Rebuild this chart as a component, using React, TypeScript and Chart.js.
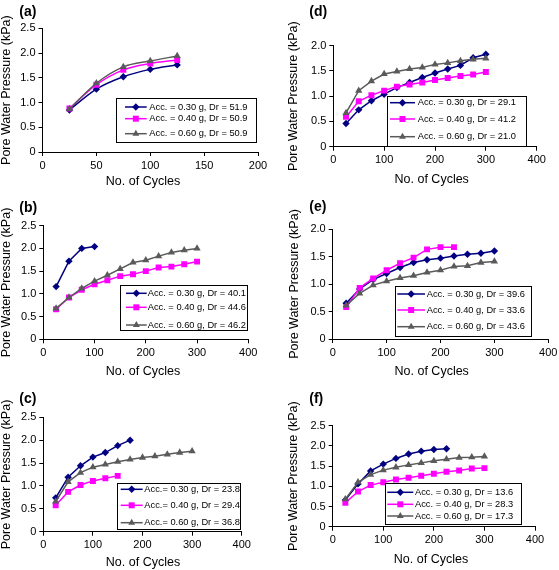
import React, { useEffect, useRef } from "react";
import { Chart, registerables } from "chart.js";

Chart.register(...registerables);

const FONT = '"Liberation Sans", Arial, Helvetica, sans-serif';

// ---------- data ----------
const cyclesA = [25, 50, 75, 100, 125];
const cycles = [25, 50, 75, 100, 125, 150, 175, 200, 225, 250, 275, 300];

const aAcc30 = [0.85, 1.27, 1.52, 1.67, 1.76];
const aAcc40 = [0.88, 1.36, 1.66, 1.79, 1.86];
const aAcc60 = [0.87, 1.39, 1.72, 1.84, 1.94];

const bAcc30 = [1.16, 1.72, 2.0, 2.04];
const bAcc40 = [0.66, 0.92, 1.09, 1.21, 1.3, 1.39, 1.43, 1.5, 1.58, 1.6, 1.65, 1.71];
const bAcc60 = [0.68, 0.92, 1.12, 1.28, 1.41, 1.55, 1.69, 1.74, 1.83, 1.91, 1.96, 2.0];

const cAcc30 = [0.74, 1.19, 1.44, 1.63, 1.73, 1.88, 2.0];
const cAcc40 = [0.58, 0.87, 1.02, 1.11, 1.17, 1.22];
const cAcc60 = [0.66, 1.09, 1.29, 1.41, 1.47, 1.53, 1.58, 1.62, 1.65, 1.69, 1.73, 1.76];

const dAcc30 = [0.46, 0.73, 0.91, 1.04, 1.17, 1.27, 1.37, 1.46, 1.54, 1.61, 1.76, 1.83];
const dAcc40 = [0.59, 0.9, 1.02, 1.11, 1.19, 1.23, 1.27, 1.32, 1.36, 1.4, 1.43, 1.48];
const dAcc60 = [0.67, 1.11, 1.3, 1.44, 1.49, 1.54, 1.57, 1.63, 1.66, 1.7, 1.73, 1.75];

const eAcc30 = [0.65, 0.91, 1.08, 1.19, 1.3, 1.39, 1.44, 1.47, 1.51, 1.54, 1.56, 1.6];
const eAcc40 = [0.58, 0.93, 1.1, 1.25, 1.38, 1.48, 1.63, 1.67, 1.67];
const eAcc60 = [0.61, 0.83, 0.98, 1.05, 1.11, 1.15, 1.21, 1.25, 1.32, 1.33, 1.39, 1.41];

const fAcc30 = [0.66, 1.06, 1.38, 1.55, 1.69, 1.8, 1.87, 1.91, 1.93];
const fAcc40 = [0.59, 0.87, 1.03, 1.1, 1.17, 1.21, 1.26, 1.31, 1.36, 1.39, 1.44, 1.45];
const fAcc60 = [0.68, 1.1, 1.29, 1.4, 1.47, 1.53, 1.58, 1.63, 1.67, 1.71, 1.72, 1.74];

const namesA = ["Acc. = 0.30 g, Dr = 51.9", "Acc. = 0.40 g, Dr = 50.9", "Acc. = 0.60 g, Dr = 50.9"];
const namesB = ["Acc. = 0.30 g, Dr = 40.1", "Acc. = 0.40 g, Dr = 44.6", "Acc. = 0.60 g, Dr = 46.2"];
const namesC = ["Acc.= 0.30 g, Dr = 23.8", "Acc.= 0.40 g, Dr = 29.4", "Acc.= 0.60 g, Dr = 36.8"];
const namesD = ["Acc. = 0.30 g, Dr = 29.1", "Acc. = 0.40 g, Dr = 41.2", "Acc. = 0.60 g, Dr = 21.0"];
const namesE = ["Acc. = 0.30 g, Dr = 39.6", "Acc. = 0.40 g, Dr = 33.6", "Acc. = 0.60 g, Dr = 43.6"];
const namesF = ["Acc. = 0.30 g, Dr = 13.6", "Acc. = 0.40 g, Dr = 28.3", "Acc. = 0.60 g, Dr = 17.3"];

const xTitle = "No. of Cycles";
const yTitle = "Pore Water Pressure (kPa)";

// ---------- styles ----------
const COLORS = ["#000080", "#FF00FF", "#5a5a5a"];
const MARKERS = ["diamond", "square", "triangle"];

type Legend = { x0: number; y0: number; x1: number; y1: number; rows: number[]; lx0: number; lx1: number; tx: number };
type PanelCfg = {
  label: string; labelX: number; labelY: number;
  left: number; top: number; w: number; h: number;
  padT: number; padR: number; yW: number; xH: number;
  yTitlePad: number; xTitleX: number; xTitleY: number;
  xMax: number; xStep: number; yMax: number; smooth: boolean;
  xs: number[]; series: number[][]; names: string[]; legend: Legend;
};

const panels: PanelCfg[] = [
  {
    label: "(a)", labelX: 19.3, labelY: 12.5, left: 0, top: 0, w: 280, h: 190,
    padT: 28.3, padR: 22, yW: 42.5, xH: 38, yTitlePad: 0, xTitleX: 143, xTitleY: 182,
    xMax: 200, xStep: 50, yMax: 2.5, smooth: true,
    xs: cyclesA, series: [aAcc30, aAcc40, aAcc60], names: namesA,
    legend: { x0: 115.7, y0: 97.7, x1: 255.7, y1: 142, rows: [107, 118.7, 133.7], lx0: 125, lx1: 146.7, tx: 149.3 },
  },
  {
    label: "(d)", labelX: 29.3, labelY: 11.7, left: 280, top: 0, w: 279, h: 190,
    padT: 45.7, padR: 22.3, yW: 53.3, xH: 43.3, yTitlePad: 7.5, xTitleX: 151.7, xTitleY: 180,
    xMax: 400, xStep: 100, yMax: 2, smooth: false,
    xs: cycles, series: [dAcc30, dAcc40, dAcc60], names: namesD,
    legend: { x0: 107.3, y0: 95.7, x1: 246.7, y1: 146, rows: [102.7, 119, 136.7], lx0: 110, lx1: 135, tx: 137.7 },
  },
  {
    label: "(b)", labelX: 19.3, labelY: 18.3, left: 0, top: 190, w: 280, h: 190,
    padT: 35.7, padR: 31.7, yW: 43.3, xH: 40.7, yTitlePad: 0, xTitleX: 143, xTitleY: 181.7,
    xMax: 400, xStep: 100, yMax: 2.5, smooth: false,
    xs: cycles, series: [bAcc30, bAcc40, bAcc60], names: namesB,
    legend: { x0: 120, y0: 95, x1: 247.3, y1: 140, rows: [103.3, 117.3, 135], lx0: 126, lx1: 146.7, tx: 147.7 },
  },
  {
    label: "(e)", labelX: 29.3, labelY: 16.7, left: 280, top: 190, w: 279, h: 190,
    padT: 39, padR: 10.7, yW: 52.7, xH: 41, yTitlePad: 8.25, xTitleX: 151.7, xTitleY: 181.7,
    xMax: 400, xStep: 100, yMax: 2, smooth: false,
    xs: cycles, series: [eAcc30, eAcc40, eAcc60], names: namesE,
    legend: { x0: 115, y0: 95.7, x1: 250.7, y1: 145.7, rows: [104, 120, 136.7], lx0: 117.3, lx1: 145, tx: 146.7 },
  },
  {
    label: "(c)", labelX: 19.3, labelY: 18.7, left: 0, top: 380, w: 280, h: 190,
    padT: 37.3, padR: 38.3, yW: 43.3, xH: 38.3, yTitlePad: 0, xTitleX: 143, xTitleY: 182.3,
    xMax: 400, xStep: 100, yMax: 2.5, smooth: false,
    xs: cycles, series: [cAcc30, cAcc40, cAcc60], names: namesC,
    legend: { x0: 117.3, y0: 102.7, x1: 240.7, y1: 148.3, rows: [109.3, 125.3, 142.7], lx0: 120.7, lx1: 142.7, tx: 144.3 },
  },
  {
    label: "(f)", labelX: 29.3, labelY: 18.7, left: 280, top: 380, w: 279, h: 190,
    padT: 45.7, padR: 24, yW: 52.7, xH: 43.3, yTitlePad: 7.5, xTitleX: 151, xTitleY: 180,
    xMax: 400, xStep: 100, yMax: 2.5, smooth: false,
    xs: cycles, series: [fAcc30, fAcc40, fAcc60], names: namesF,
    legend: { x0: 105, y0: 103.3, x1: 240.7, y1: 144, rows: [112.3, 124.3, 136], lx0: 107.3, lx1: 133.3, tx: 135 },
  },
];

function drawMarker(ctx: CanvasRenderingContext2D, kind: string, x: number, y: number, color: string) {
  ctx.fillStyle = color;
  ctx.beginPath();
  if (kind === "diamond") {
    const r = 3.7;
    ctx.moveTo(x, y - r); ctx.lineTo(x + r, y); ctx.lineTo(x, y + r); ctx.lineTo(x - r, y);
  } else if (kind === "square") {
    const s = 3;
    ctx.rect(x - s, y - s, 2 * s, 2 * s);
  } else {
    const r = 4;
    ctx.moveTo(x, y - r); ctx.lineTo(x + r * 0.866, y + r * 0.5); ctx.lineTo(x - r * 0.866, y + r * 0.5);
  }
  ctx.closePath();
  ctx.fill();
}

const decorPlugin = {
  id: "panelDecor",
  afterDraw(chart: any, _args: any, opts: any) {
    const p: PanelCfg = opts.panel;
    if (!p) return;
    const ctx: CanvasRenderingContext2D = chart.ctx;
    ctx.save();
    // panel label
    ctx.fillStyle = "#000";
    ctx.font = `bold 14px ${FONT}`;
    ctx.textBaseline = "middle";
    ctx.textAlign = "left";
    ctx.fillText(p.label, p.labelX, p.labelY);
    // x axis title
    ctx.font = `12.5px ${FONT}`;
    ctx.textAlign = "center";
    ctx.fillText(xTitle, p.xTitleX, p.xTitleY);
    ctx.textAlign = "left";
    // legend box
    const L = p.legend;
    ctx.fillStyle = "#fff";
    ctx.fillRect(L.x0, L.y0, L.x1 - L.x0, L.y1 - L.y0);
    ctx.strokeStyle = "#000";
    ctx.lineWidth = 1;
    ctx.strokeRect(Math.round(L.x0) + 0.5, Math.round(L.y0) + 0.5, Math.round(L.x1 - L.x0), Math.round(L.y1 - L.y0));
    ctx.font = `9.3px ${FONT}`;
    p.names.forEach((name, i) => {
      const y = L.rows[i];
      ctx.strokeStyle = COLORS[i];
      ctx.lineWidth = 1.5;
      ctx.beginPath();
      ctx.moveTo(L.lx0, y);
      ctx.lineTo(L.lx1, y);
      ctx.stroke();
      drawMarker(ctx, MARKERS[i], (L.lx0 + L.lx1) / 2, y, COLORS[i]);
      ctx.fillStyle = "#000";
      ctx.fillText(name, L.tx, y);
    });
    ctx.restore();
  },
};

const pointStyles = ["rectRot", "rect", "triangle"];
const pointRadii = [3.7, 4.2, 4.2];

function Panel({ p }: { p: PanelCfg }) {
  const ref = useRef<HTMLCanvasElement | null>(null);
  useEffect(() => {
    if (!ref.current) return;
    const datasets = p.series.map((vals, i) => ({
      label: p.names[i],
      data: vals.map((v, k) => ({ x: p.xs[k], y: v })),
      borderColor: COLORS[i],
      backgroundColor: COLORS[i],
      borderWidth: 1.5,
      pointStyle: pointStyles[i],
      pointRadius: pointRadii[i],
      pointBorderWidth: 0,
      pointBackgroundColor: COLORS[i],
      cubicInterpolationMode: p.smooth ? "monotone" : "default",
      tension: 0,
      order: 2 - i,
    }));
    const tickFont = { family: FONT, size: 11 };
    const titleFont = { family: FONT, size: 12.5, lineHeight: 1 };
    const chart = new Chart(ref.current, {
      type: "line",
      data: { datasets: datasets as any },
      plugins: [decorPlugin as any],
      options: {
        animation: false,
        responsive: false,
        maintainAspectRatio: false,
        devicePixelRatio: 1,
        layout: { padding: { left: 0, top: p.padT, right: p.padR, bottom: 0 } },
        plugins: {
          legend: { display: false },
          tooltip: { enabled: false },
          title: { display: false },
          panelDecor: { panel: p },
        } as any,
        scales: {
          x: {
            type: "linear",
            min: 0,
            max: p.xMax,
            ticks: { stepSize: p.xStep, font: tickFont, color: "#000", padding: 3, maxRotation: 0 },
            grid: { drawOnChartArea: false, drawTicks: true, tickLength: 4, color: "#000" },
            border: { color: "#000", width: 1 },
            title: { display: false, text: xTitle },
            afterFit: (s: any) => { s.height = p.xH; s.paddingLeft = 0; s.paddingRight = 0; },
          },
          y: {
            type: "linear",
            min: 0,
            max: p.yMax,
            ticks: { stepSize: 0.5, font: tickFont, color: "#000", padding: 3 },
            grid: { drawOnChartArea: false, drawTicks: true, tickLength: 4, color: "#000" },
            border: { color: "#000", width: 1 },
            title: { display: true, text: yTitle, font: titleFont, color: "#000", padding: { top: p.yTitlePad, bottom: 0 } },
            afterFit: (s: any) => { s.width = p.yW; s.paddingTop = 0; s.paddingBottom = 0; },
          },
        } as any,
      },
    });
    return () => chart.destroy();
  }, [p]);
  return (
    <canvas
      ref={ref}
      width={p.w}
      height={p.h}
      style={{ position: "absolute", left: p.left, top: p.top, width: p.w, height: p.h }}
    />
  );
}

export default function App() {
  return (
    <div style={{ position: "absolute", left: 0, top: 0, width: 559, height: 570, background: "#fff", overflow: "hidden" }}>
      {panels.map((p) => (
        <Panel key={p.label} p={p} />
      ))}
    </div>
  );
}
